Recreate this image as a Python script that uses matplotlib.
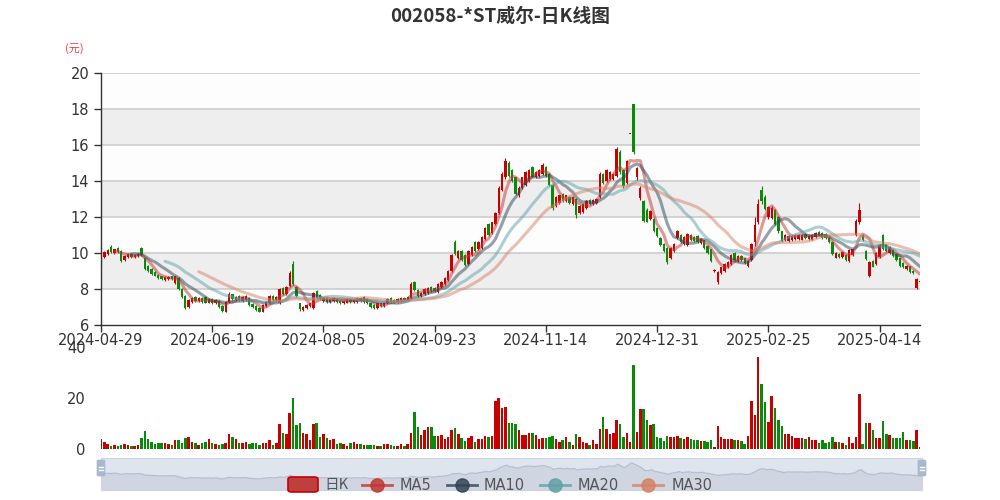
import matplotlib
matplotlib.use("Agg")
import matplotlib.pyplot as plt
import matplotlib.patches as patches
from matplotlib.lines import Line2D
import numpy as np
import pandas as pd

CJK = ['Noto Sans CJK SC', 'DejaVu Sans']

# trading calendar 2024-04-29 .. 2025-04-30 (SZSE holidays removed)
holidays = ['2024-05-01', '2024-05-02', '2024-05-03', '2024-06-10',
            '2024-09-16', '2024-09-17', '2024-10-01', '2024-10-02',
            '2024-10-03', '2024-10-04', '2024-10-07', '2025-01-01',
            '2025-01-28', '2025-01-29', '2025-01-30', '2025-01-31',
            '2025-02-03', '2025-02-04', '2025-04-04']
days = pd.bdate_range('2024-04-29', '2025-04-30')
days = days[~days.isin(pd.to_datetime(holidays))]
dates = [d.strftime('%Y-%m-%d') for d in days]

opens = [
    9.20, 9.80, 9.95, 10.35, 10.00, 10.30, 10.10, 9.60, 9.80, 9.95,
    9.80, 9.85, 10.30, 9.70, 9.30, 9.10, 8.95, 8.80, 8.70, 8.50,
    8.55, 8.70, 8.35, 8.60, 8.00, 7.60, 7.00, 7.30, 7.55, 7.35,
    7.50, 7.55, 7.25, 7.45, 7.20, 7.35, 7.05, 6.75, 7.30, 7.70,
    7.40, 7.60, 7.35, 7.40, 7.50, 7.15, 7.05, 6.95, 6.75, 7.05,
    7.20, 7.60, 7.40, 7.20, 8.05, 7.70, 8.15, 9.40, 8.10, 7.20,
    6.85, 6.95, 7.05, 6.95, 7.90, 7.65, 7.35, 7.50, 7.30, 7.35,
    7.45, 7.35, 7.20, 7.25, 7.45, 7.30, 7.30, 7.50, 7.30, 7.45,
    7.20, 7.10, 6.95, 7.20, 7.05, 7.20, 7.50, 7.40, 7.30, 7.35,
    7.50, 7.40, 7.50, 8.40, 7.95, 7.60, 7.70, 7.80, 8.10, 8.05,
    7.85, 8.10, 8.30, 8.50, 9.00, 10.60, 9.70, 10.10, 9.90, 9.40,
    9.90, 10.60, 10.20, 10.30, 10.80, 11.60, 11.10, 11.60, 12.20, 13.50,
    14.20, 15.00, 14.60, 14.20, 13.20, 13.60, 13.80, 14.00, 14.80, 14.20,
    14.30, 14.40, 14.80, 14.40, 13.80, 12.60, 12.80, 13.30, 12.90, 13.10,
    12.70, 13.00, 12.20, 12.30, 12.50, 12.95, 12.70, 12.80, 13.10, 14.40,
    14.00, 14.10, 14.10, 14.30, 15.60, 14.60, 13.90, 16.60, 18.27, 14.20,
    13.05, 12.90, 12.40, 11.90, 11.90, 11.40, 10.85, 10.50, 10.30, 9.70,
    10.10, 10.85, 11.00, 10.50, 10.45, 11.00, 10.90, 10.95, 10.55, 10.70,
    10.40, 10.20, 9.00, 8.40, 8.90, 9.00, 9.20, 9.40, 10.00, 9.55,
    9.85, 9.70, 9.30, 9.60, 10.60, 11.70, 13.50, 13.10, 12.00, 11.95,
    12.40, 12.00, 11.20, 10.70, 10.65, 10.70, 10.80, 10.80, 10.75, 11.05,
    10.80, 10.75, 10.90, 11.15, 11.10, 11.05, 10.85, 10.60, 9.75, 9.95,
    9.80, 9.90, 9.55, 9.90, 11.00, 11.70, 11.00, 10.10, 8.70, 9.55,
    9.40, 9.80, 11.00, 10.45, 10.00, 10.15, 9.95, 9.70, 9.45, 9.10,
    9.25, 9.00, 8.05, 8.38]

closes = [
    9.80, 10.05, 10.15, 10.05, 10.20, 10.05, 9.55, 9.85, 9.95, 9.80,
    9.90, 9.95, 9.90, 9.10, 9.00, 8.85, 8.75, 8.60, 8.55, 8.65,
    8.65, 8.55, 8.70, 8.00, 7.55, 6.95, 7.40, 7.50, 7.35, 7.50,
    7.30, 7.25, 7.45, 7.20, 7.40, 7.00, 6.80, 7.30, 7.75, 7.45,
    7.55, 7.40, 7.55, 7.60, 7.10, 7.00, 6.85, 6.75, 7.10, 7.30,
    7.60, 7.40, 7.55, 8.00, 7.70, 8.10, 8.90, 8.30, 7.60, 6.90,
    7.00, 7.10, 7.20, 7.80, 7.50, 7.45, 7.50, 7.30, 7.45, 7.50,
    7.30, 7.20, 7.35, 7.45, 7.30, 7.40, 7.50, 7.35, 7.55, 7.20,
    7.00, 6.95, 7.20, 7.05, 7.25, 7.45, 7.30, 7.25, 7.45, 7.50,
    7.40, 7.55, 8.30, 7.95, 7.60, 7.80, 8.00, 8.05, 7.90, 7.90,
    8.30, 8.40, 8.60, 9.00, 9.90, 9.95, 10.10, 9.60, 9.35, 10.10,
    10.35, 10.10, 10.60, 10.90, 11.40, 11.00, 11.70, 12.20, 13.60, 14.40,
    15.10, 14.30, 14.00, 13.30, 13.60, 14.20, 14.50, 14.60, 14.25, 14.50,
    14.60, 14.90, 14.30, 13.80, 12.50, 13.10, 13.20, 12.90, 13.20, 12.80,
    13.10, 12.10, 12.60, 12.70, 12.90, 12.70, 12.95, 13.00, 14.40, 13.90,
    14.60, 14.50, 14.40, 15.80, 14.50, 13.70, 15.10, 16.61, 15.60, 14.70,
    13.60, 11.80, 11.75, 12.35, 11.20, 10.95, 10.45, 10.10, 9.50, 10.30,
    10.50, 11.25, 10.60, 10.90, 11.05, 10.70, 10.65, 10.60, 10.80, 10.30,
    10.00, 9.55, 9.05, 8.95, 9.20, 9.40, 9.50, 9.90, 9.60, 9.85,
    9.60, 9.45, 9.55, 10.50, 11.55, 12.70, 12.90, 12.45, 12.55, 12.50,
    11.60, 11.20, 10.65, 11.00, 10.95, 10.95, 11.00, 11.00, 11.00, 10.85,
    10.95, 11.00, 11.10, 11.00, 10.85, 10.85, 10.60, 9.95, 10.00, 9.80,
    10.05, 9.60, 10.15, 10.20, 11.80, 12.40, 10.70, 9.65, 9.50, 9.25,
    10.00, 10.45, 10.20, 10.10, 10.35, 9.85, 9.60, 9.30, 9.20, 9.30,
    8.95, 8.90, 8.55, 8.42]

highs = [
    9.85, 10.10, 10.20, 10.42, 10.25, 10.35, 10.15, 9.90, 10.00, 10.00,
    9.95, 10.00, 10.35, 9.75, 9.35, 9.15, 9.00, 8.85, 8.75, 8.70,
    8.70, 8.75, 8.75, 8.65, 8.05, 7.65, 7.45, 7.55, 7.60, 7.55,
    7.55, 7.60, 7.50, 7.50, 7.45, 7.40, 7.10, 7.35, 7.85, 7.75,
    7.60, 7.65, 7.60, 7.65, 7.55, 7.20, 7.10, 7.00, 7.15, 7.35,
    7.65, 7.65, 7.60, 8.05, 8.10, 8.15, 9.00, 9.55, 8.15, 7.25,
    7.05, 7.15, 7.25, 7.85, 7.95, 7.70, 7.55, 7.55, 7.50, 7.55,
    7.50, 7.40, 7.40, 7.50, 7.50, 7.45, 7.55, 7.55, 7.60, 7.50,
    7.25, 7.15, 7.25, 7.25, 7.30, 7.50, 7.55, 7.45, 7.50, 7.55,
    7.55, 7.60, 8.40, 8.45, 8.00, 7.85, 8.05, 8.10, 8.15, 8.10,
    8.35, 8.45, 8.65, 9.05, 9.95, 10.75, 10.15, 10.15, 9.95, 10.15,
    10.40, 10.65, 10.65, 10.95, 11.45, 11.65, 11.75, 12.30, 13.70, 14.50,
    15.30, 15.10, 14.65, 14.25, 13.70, 14.25, 14.55, 14.65, 14.85, 14.55,
    14.65, 15.00, 14.85, 14.45, 13.85, 13.15, 13.25, 13.35, 13.25, 13.15,
    13.15, 13.05, 12.65, 12.75, 12.95, 13.00, 13.00, 13.05, 14.50, 14.45,
    14.65, 14.55, 14.45, 15.90, 15.70, 14.65, 15.15, 16.61, 18.30, 14.80,
    13.70, 12.95, 12.50, 12.40, 11.95, 11.45, 10.90, 10.55, 10.35, 10.35,
    10.55, 11.30, 11.05, 10.95, 11.10, 11.05, 10.95, 11.00, 10.85, 10.75,
    10.45, 10.25, 9.10, 9.00, 9.25, 9.45, 9.55, 9.95, 10.05, 9.90,
    9.90, 9.75, 9.60, 10.55, 12.00, 13.00, 13.70, 13.20, 12.60, 12.60,
    12.45, 12.05, 11.25, 11.05, 11.00, 11.00, 11.05, 11.05, 11.05, 11.10,
    11.00, 11.05, 11.15, 11.20, 11.15, 11.10, 10.90, 10.65, 10.05, 10.00,
    10.10, 9.95, 10.20, 10.25, 11.90, 12.80, 11.05, 10.15, 9.55, 9.60,
    10.05, 10.50, 11.05, 10.50, 10.40, 10.20, 10.00, 9.75, 9.50, 9.35,
    9.30, 9.05, 8.60, 8.45]

lows = [
    9.10, 9.75, 9.90, 10.00, 9.95, 10.00, 9.50, 9.55, 9.75, 9.75,
    9.75, 9.80, 9.85, 9.05, 8.95, 8.80, 8.70, 8.55, 8.50, 8.45,
    8.50, 8.50, 8.30, 7.95, 7.50, 6.90, 6.95, 7.25, 7.30, 7.30,
    7.25, 7.20, 7.20, 7.15, 7.15, 6.95, 6.75, 6.70, 7.25, 7.40,
    7.35, 7.35, 7.30, 7.35, 7.05, 6.95, 6.80, 6.70, 6.70, 7.00,
    7.15, 7.35, 7.35, 7.15, 7.65, 7.65, 8.10, 8.20, 7.55, 6.80,
    6.80, 6.90, 7.00, 6.90, 7.45, 7.40, 7.30, 7.25, 7.25, 7.30,
    7.25, 7.15, 7.15, 7.20, 7.25, 7.25, 7.25, 7.30, 7.25, 7.15,
    6.95, 6.90, 6.90, 7.00, 7.00, 7.15, 7.25, 7.20, 7.25, 7.30,
    7.35, 7.35, 7.45, 7.90, 7.55, 7.55, 7.65, 7.75, 7.85, 7.85,
    7.80, 8.05, 8.25, 8.45, 8.95, 9.90, 9.65, 9.55, 9.30, 9.35,
    9.85, 10.05, 10.15, 10.25, 10.75, 10.95, 11.05, 11.55, 12.15, 13.45,
    14.10, 14.25, 13.95, 13.20, 13.10, 13.55, 13.70, 13.95, 14.20, 14.15,
    14.25, 14.35, 14.25, 13.75, 12.40, 12.55, 12.75, 12.85, 12.85, 12.75,
    12.65, 11.95, 12.15, 12.25, 12.45, 12.65, 12.65, 12.75, 13.05, 13.85,
    13.95, 14.05, 14.05, 14.25, 14.40, 13.60, 13.85, 16.60, 15.50, 14.05,
    12.95, 11.75, 11.70, 11.85, 11.15, 10.90, 10.40, 10.05, 9.40, 9.65,
    10.05, 10.80, 10.55, 10.45, 10.40, 10.65, 10.60, 10.55, 10.50, 10.25,
    9.95, 9.50, 8.95, 8.30, 8.85, 8.95, 9.15, 9.35, 9.55, 9.50,
    9.55, 9.40, 9.25, 9.55, 10.40, 11.60, 12.70, 12.40, 11.90, 11.90,
    11.55, 11.10, 10.60, 10.65, 10.60, 10.65, 10.75, 10.75, 10.70, 10.80,
    10.75, 10.70, 10.85, 10.95, 10.80, 10.80, 10.55, 9.90, 9.70, 9.75,
    9.75, 9.55, 9.50, 9.85, 10.95, 11.60, 10.65, 9.60, 8.65, 9.20,
    9.35, 9.75, 10.15, 10.05, 9.95, 9.80, 9.55, 9.25, 9.15, 9.05,
    8.90, 8.85, 8.00, 8.35]

volumes = [
    3.9, 2.6, 2.0, 1.2, 1.5, 1.2, 1.5, 1.8, 1.5, 1.2,
    1.2, 1.6, 4.2, 6.9, 3.9, 2.9, 2.0, 2.3, 2.3, 2.3,
    1.8, 1.6, 3.5, 3.5, 2.4, 4.4, 4.6, 2.8, 2.3, 1.5,
    2.5, 2.9, 3.9, 2.3, 2.0, 1.5, 2.0, 2.5, 5.8, 4.8,
    3.9, 2.2, 2.2, 2.9, 2.0, 2.2, 2.5, 1.5, 2.5, 2.5,
    3.5, 1.6, 2.5, 9.8, 6.4, 5.8, 14.0, 19.9, 9.4, 10.3,
    6.4, 5.8, 3.5, 9.8, 10.1, 4.8, 5.8, 4.2, 3.5, 3.8,
    2.0, 2.3, 1.8, 1.2, 2.5, 2.9, 1.8, 2.0, 1.6, 1.6,
    1.6, 1.6, 1.2, 1.0, 1.8, 2.1, 1.7, 1.2, 1.2, 1.8,
    1.2, 1.8, 6.1, 14.6, 8.8, 5.5, 7.5, 8.8, 8.5, 5.1,
    5.2, 5.5, 3.9, 4.6, 7.5, 8.4, 5.8, 4.4, 3.1, 4.4,
    5.1, 2.9, 3.9, 3.9, 5.2, 4.8, 5.2, 19.0, 19.9, 16.0,
    16.3, 10.1, 10.1, 9.8, 7.5, 5.5, 5.5, 6.1, 6.1, 5.5,
    3.9, 4.4, 4.4, 4.8, 5.1, 3.9, 2.6, 3.5, 4.7, 2.9,
    1.6, 5.8, 4.8, 2.9, 2.2, 1.6, 3.5, 1.8, 7.8, 12.4,
    7.8, 5.8, 6.1, 11.4, 9.8, 4.8, 6.1, 2.6, 33.0, 6.8,
    15.7, 15.7, 11.4, 9.4, 9.7, 4.8, 4.4, 3.3, 5.0, 4.8,
    4.6, 5.1, 4.4, 3.9, 4.9, 4.1, 3.5, 3.5, 3.3, 3.0,
    2.8, 3.5, 0.9, 9.0, 4.8, 3.8, 3.8, 3.8, 3.6, 3.4,
    3.3, 1.8, 5.2, 18.8, 13.3, 36.0, 25.5, 18.6, 10.5, 20.8,
    16.0, 11.4, 9.2, 6.0, 5.8, 5.2, 4.2, 4.4, 4.4, 3.9,
    4.6, 3.4, 3.5, 2.5, 3.5, 2.5, 2.9, 4.6, 2.9, 2.6,
    2.2, 1.6, 4.8, 2.2, 4.8, 21.6, 2.0, 10.3, 10.1, 7.5,
    4.4, 4.4, 11.0, 6.0, 5.5, 4.4, 4.4, 4.4, 6.7, 3.5,
    3.5, 3.0, 7.5, 0.6]

ma_windows = [5, 10, 20, 30]
ma_colors = ['#c23531', '#2f4554', '#61a0a8', '#d48265']
UP, DOWN = '#c80000', '#0a8a0a'

o = np.array(opens)
c = np.array(closes)
h = np.array(highs)
l = np.array(lows)
v = np.array(volumes)
n = len(c)
x = np.arange(n)
col = np.where(c >= o, UP, DOWN)

fig = plt.figure(figsize=(10, 5), dpi=100)
ax = fig.add_axes([0.101, 0.35, 0.819, 0.504])
axv = fig.add_axes([0.101, 0.102, 0.819, 0.204])
axs = fig.add_axes([0.101, 0.02, 0.821, 0.064])

# price panel background bands + grid
for k, y0 in enumerate(range(6, 20, 2)):
    ax.axhspan(y0, y0 + 2, color='#eeeeee' if k % 2 == 1 else '#fdfdfd', lw=0, zorder=0)
for y0 in range(8, 21, 2):
    ax.axhline(y0, color='#cccccc', lw=1.2, zorder=0.5)

ax.vlines(x, l, h, color=col, lw=0.8, zorder=2)
body = np.maximum(np.abs(c - o), 0.04)
ax.bar(x, body, bottom=np.minimum(o, c), width=0.7, color=col, lw=0, zorder=2)

s = pd.Series(c)
for w, mc in zip(ma_windows, ma_colors):
    ax.plot(x, s.rolling(w).mean(), color=mc, lw=2.2, alpha=0.5, zorder=3,
            solid_capstyle='round')

ax.set_xlim(0, n - 1)
ax.set_ylim(6, 20)
ax.set_yticks(range(6, 21, 2))
tick_idx = list(range(0, n, 33))
ax.set_xticks(tick_idx)
ax.set_xticklabels([dates[i] for i in tick_idx])
for sp in ['top', 'right']:
    ax.spines[sp].set_visible(False)
for sp in ['left', 'bottom']:
    ax.spines[sp].set_color('#333333')
    ax.spines[sp].set_linewidth(1.0)
ax.tick_params(axis='both', colors='#333333', labelsize=10.5, length=5, width=1.0)
ax.tick_params(axis='x', pad=1)
for t in ax.get_xticklabels() + ax.get_yticklabels():
    t.set_color('#333333')

# volume panel
axv.bar(x, v, width=0.75, color=col, lw=0)
axv.set_xlim(0, n - 1)
axv.set_ylim(0, 40)
axv.set_yticks([0, 20, 40])
axv.set_xticks([])
for sp in axv.spines.values():
    sp.set_visible(False)
axv.tick_params(axis='y', length=0, labelsize=10.5, colors='#333333', pad=11)
for t in axv.get_yticklabels():
    t.set_va('center_baseline')

# data zoom slider
axs.set_facecolor('#dfe5ee')
axs.fill_between(x, c, 0, color='#cfd6e2', lw=0)
axs.plot(x, c, color='#b4bfcf', lw=0.9)
axs.set_xlim(0, n - 1)
axs.set_ylim(0, 19.5)
axs.set_xticks([])
axs.set_yticks([])
for sp in axs.spines.values():
    sp.set_color('#ccd3de')
    sp.set_linewidth(0.8)
for hx in [0.101, 0.922]:
    fig.add_artist(patches.FancyBboxPatch(
        (hx - 0.004, 1 - 476 / 500), 0.008, 16 / 500,
        boxstyle='round,pad=0,rounding_size=0.002', transform=fig.transFigure,
        facecolor='#a9b8cc', edgecolor='#a9b8cc', lw=0.5, zorder=5))
    for gy in [466.5, 470]:
        fig.add_artist(Line2D([hx - 0.002, hx + 0.002], [1 - gy / 500] * 2,
                              transform=fig.transFigure, color='white', lw=1, zorder=6))

# legend
ly = 1 - 485 / 500
fig.add_artist(patches.FancyBboxPatch(
    (0.288, 1 - 492 / 500), 0.030, 15 / 500,
    boxstyle='round,pad=0,rounding_size=0.004', transform=fig.transFigure,
    facecolor='#bf3e3e', edgecolor='#c80000', lw=1.2, zorder=5))
fig.text(0.324, ly, '日K', family=CJK, fontsize=10.5, color='#555555',
         va='center', ha='left', zorder=6)
leg_pos = [(0.362, 0.400, 'MA5'), (0.447, 0.484, 'MA10'),
           (0.540, 0.578, 'MA20'), (0.633, 0.672, 'MA30')]
for (x0, tx, lab), mc in zip(leg_pos, ma_colors):
    fig.add_artist(Line2D([x0, x0 + 0.030], [ly, ly], transform=fig.transFigure,
                          color=mc, lw=2, alpha=0.8, zorder=5))
    fig.add_artist(Line2D([x0 + 0.015], [ly], transform=fig.transFigure,
                          marker='o', ms=9.5, color=mc, alpha=0.85, lw=0, zorder=5))
    fig.text(tx, ly, lab, fontsize=10.5, color='#555555', va='center', ha='left', zorder=6)

fig.text(0.5, 1 - 16 / 500, '002058-*ST威尔-日K线图', family=CJK, fontsize=13.5,
         fontweight='bold', color='#333333', ha='center', va='center')
fig.text(0.074, 1 - 49 / 500, '(元)', family=CJK, fontsize=8, color='#e8413f',
         ha='center', va='center')

fig.savefig('out.png', dpi=100)
